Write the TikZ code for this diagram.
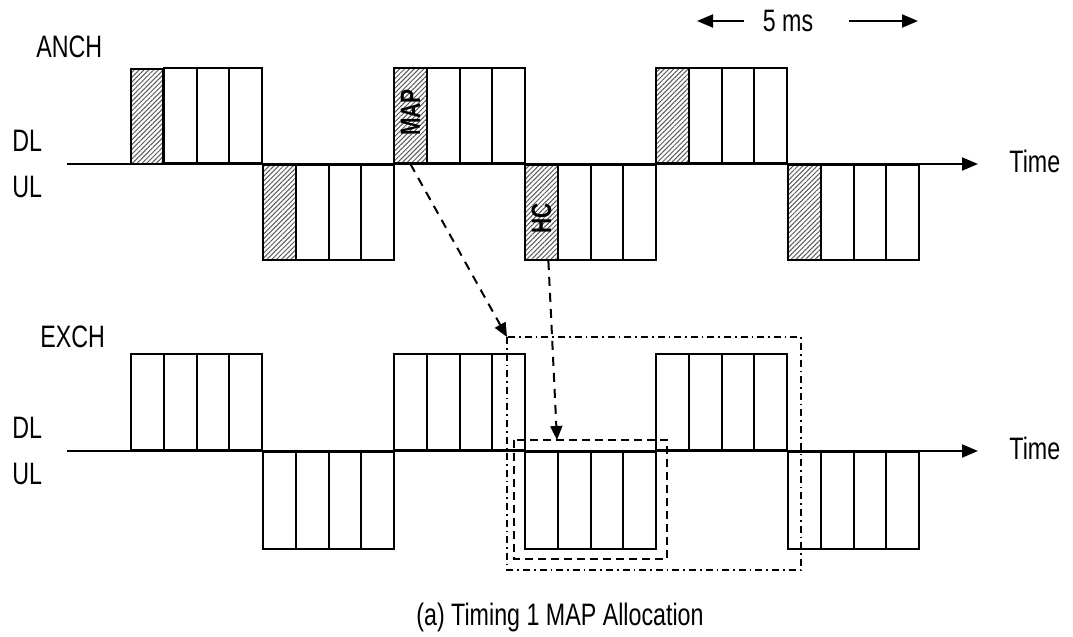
\documentclass[tikz,border=0pt]{standalone}
\usepackage{fontspec}
\setmainfont{Liberation Sans}[FakeStretch=0.75]
\usetikzlibrary{arrows.meta,patterns.meta,calc}

\begin{document}
\begin{tikzpicture}[
        x=0.5pt, y=-0.5pt,
        lbl/.style={font=\fontsize{15.5}{18}\selectfont, inner sep=0pt},
        tag/.style={font=\fontsize{14}{16}\selectfont\bfseries, rotate=90, inner sep=0pt},
        slot/.style={draw, line width=1pt, minimum width=16.4pt, minimum height=47.5pt, inner sep=0pt},
        hatched/.style={pattern={Lines[angle=45, distance=1.7pt, line width=0.5pt]}, pattern color=black!65},
        axis/.style={line width=1pt, -{Triangle[length=8pt, width=6.5pt]}},
        span/.style={line width=1pt, -{Triangle[length=8pt, width=6.5pt]}},
        link/.style={line width=1pt, dash pattern=on 4.5pt off 3.5pt, -{Triangle[length=7pt, width=6pt]}},
        ulbox/.style={line width=1pt, dash pattern=on 4pt off 2.5pt},
        winbox/.style={line width=1pt, dash pattern=on 3.5pt off 2pt on 0.8pt off 2pt}
    ]
        \useasboundingbox (0,0) rectangle (1073,637);

        % Timelines
        \coordinate (a-start) at (67,164);
        \coordinate (a-end) at (978,164);
        \coordinate (e-start) at (67,451);
        \coordinate (e-end) at (978,451);
        \draw[axis] (a-start) -- (a-end);
        \draw[axis] (e-start) -- (e-end);
        \node[lbl, anchor=west] (a-time) at (1009,161) {Time};
        \node[lbl, anchor=west] (e-time) at (1009,448) {Time};

        % Side labels
        \node[lbl, anchor=west] (anch) at (36,47) {ANCH};
        \node[lbl, anchor=west] (a-dl) at (12,141) {DL};
        \node[lbl, anchor=west] (a-ul) at (12,187) {UL};
        \node[lbl, anchor=west] (exch) at (40,337) {EXCH};
        \node[lbl, anchor=west] (e-dl) at (12,428) {DL};
        \node[lbl, anchor=west] (e-ul) at (12,474) {UL};

        % ANCH frames
        \foreach \bx/\nm in {130/d1,393/d2,655/d3} {
            \node[slot, hatched, anchor=south west] (a\nm-1) at (\bx,164) {};
            \foreach \k in {2,3,4}
                \node[slot, anchor=south west] (a\nm-\k) at ({\bx+32.8*(\k-1)},164) {};
        }
        \foreach \bx/\nm in {262/u1,524/u2,787/u3} {
            \node[slot, hatched, anchor=north west] (a\nm-1) at (\bx,164) {};
            \foreach \k in {2,3,4}
                \node[slot, anchor=north west] (a\nm-\k) at ({\bx+32.8*(\k-1)},164) {};
        }
        \node[tag] (map) at ($(ad2-1.center)+(0,-3)$) {MAP};
        \node[tag] (hc) at ($(au2-1.center)+(0,6)$) {HC};

        % EXCH frames
        \foreach \bx/\nm in {130/d1,393/d2,655/d3} {
            \foreach \k in {1,2,3,4}
                \node[slot, minimum height=48pt, anchor=south west] (e\nm-\k) at ({\bx+32.8*(\k-1)},451) {};
        }
        \foreach \bx/\nm in {262/u1,524/u2,787/u3} {
            \foreach \k in {1,2,3,4}
                \node[slot, minimum height=48.5pt, anchor=north west] (e\nm-\k) at ({\bx+32.8*(\k-1)},451) {};
        }

        % Allocation windows
        \coordinate (win-nw) at (507,337);
        \coordinate (win-se) at (801,570);
        \coordinate (ul-nw) at (514,440);
        \coordinate (ul-se) at (667,559);
        \coordinate (hc-dst) at (557,440);
        \draw[winbox] (win-nw) rectangle (win-se);
        \draw[ulbox] (ul-nw) rectangle (ul-se);
        \draw[link] (ad2-1.south) -- (win-nw);
        \draw[link] ($(au2-1.south)+(7,0)$) -- (hc-dst);

        % Frame period
        \node[lbl] (period) at (788,21) {5 ms};
        \coordinate (p-left) at (697,21);
        \coordinate (p-right) at (918,21);
        \draw[span] ($(period.west)+(-18,0)$) -- (p-left);
        \draw[span] ($(period.east)+(35,0)$) -- (p-right);

        % Caption
        \node[lbl] (caption) at (560,617) {(a) Timing 1 MAP Allocation};
    \end{tikzpicture}
\end{document}
